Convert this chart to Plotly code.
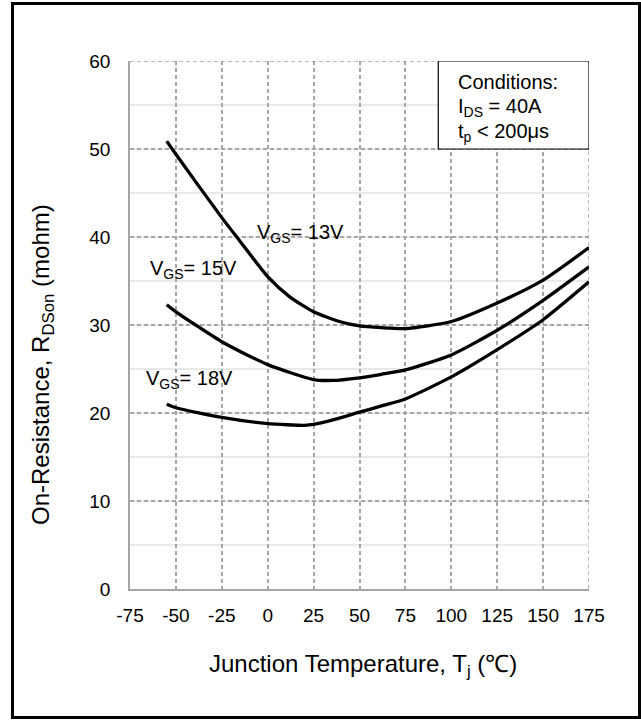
import plotly.graph_objects as go

# ---- data ----
temp_13v = [-55, -50, -25, -15, 0, 12, 25, 39, 50, 62, 75, 100, 125, 150, 175]
rds_13v = [50.9, 49.4, 42.2, 39.5, 35.5, 33.2, 31.5, 30.4, 29.9, 29.7, 29.6, 30.4, 32.5, 35.1, 38.8]

temp_15v = [-55, -50, -25, 0, 25, 35, 50, 62, 75, 100, 125, 150, 175]
rds_15v = [32.3, 31.5, 28.1, 25.5, 23.8, 23.7, 24.0, 24.4, 24.9, 26.6, 29.4, 32.8, 36.6]

temp_18v = [-55, -50, -25, 0, 20, 25, 37, 50, 62, 75, 100, 125, 150, 175]
rds_18v = [21.0, 20.6, 19.5, 18.8, 18.6, 18.7, 19.3, 20.1, 20.8, 21.6, 24.1, 27.2, 30.6, 34.9]

x_ticks = [-75, -50, -25, 0, 25, 50, 75, 100, 125, 150, 175]
y_ticks = [0, 10, 20, 30, 40, 50, 60]

FONT = "Arial, Liberation Sans, sans-serif"
GRID = "#a6a6a6"

fig = go.Figure()
for t, r in [(temp_13v, rds_13v), (temp_15v, rds_15v), (temp_18v, rds_18v)]:
    fig.add_trace(go.Scatter(x=t, y=r, mode="lines",
                             line=dict(color="black", width=3.3, shape="spline", smoothing=0.6),
                             showlegend=False, hoverinfo="skip"))

W, H = 641, 721
L, R, T, B = 130, 52, 61, 132
pw, ph = W - L - R, H - T - B

def px_x(p):
    return (p - L) / pw

def px_y(p):
    return (H - B - p) / ph

fig.update_layout(
    width=W, height=H,
    margin=dict(l=L, r=R, t=T, b=B, pad=0),
    paper_bgcolor="white", plot_bgcolor="white",
    font=dict(family=FONT, color="black", size=19),
    xaxis=dict(range=[-75, 175], tickvals=x_ticks, ticktext=[str(v) for v in x_ticks],
               showgrid=True, gridcolor=GRID, griddash="4px,3px", gridwidth=1.5,
               zeroline=False, showline=True, linecolor=GRID, linewidth=1.5,
               ticks="", ticklabelstandoff=8, tickfont=dict(size=19, family=FONT, color="black")),
    yaxis=dict(range=[0, 60], tickvals=y_ticks, ticktext=[str(v) for v in y_ticks],
               showgrid=True, gridcolor=GRID, griddash="4px,3px", gridwidth=1.5,
               zeroline=False, showline=True, linecolor=GRID, linewidth=1.5,
               ticks="", ticklabelstandoff=14, tickfont=dict(size=19, family=FONT, color="black"),
               minor=dict(dtick=5, tick0=0, showgrid=True, gridcolor="#e9e9e9", gridwidth=1.5,
                          griddash="solid")),
)

shapes = [
    # dashed top and right edges of the grid
    dict(type="line", xref="x", yref="y", x0=-75, x1=175, y0=60, y1=60,
         line=dict(color=GRID, width=1.5, dash="4px,3px"), layer="below"),
    dict(type="line", xref="x", yref="y", x0=175, x1=175, y0=0, y1=60,
         line=dict(color=GRID, width=1.5, dash="4px,3px"), layer="below"),
    # conditions box
    dict(type="rect", xref="x", yref="y", x0=92.9, x1=175, y0=50, y1=60,
         line=dict(color="black", width=1.2), fillcolor="white", layer="above"),
    # outer frame
    dict(type="rect", xref="paper", yref="paper",
         x0=px_x(12.5), x1=px_x(639.5), y0=px_y(717.5), y1=px_y(3.5),
         line=dict(color="black", width=3), fillcolor="rgba(0,0,0,0)"),
]
fig.update_layout(shapes=shapes)

ann = []
def label(x, y, text, size=20, xanchor="left", **kw):
    ann.append(dict(x=x, y=y, xref="x", yref="y", text=text, showarrow=False,
                    xanchor=xanchor, yanchor="middle", font=dict(size=size, family=FONT, color="black"),
                    **kw))

label(-6.8, 40.45, "V<sub>GS</sub>= 13V")
label(-65.4, 36.35, "V<sub>GS</sub>= 15V")
label(-67.6, 23.8, "V<sub>GS</sub>= 18V")
label(102.3, 57.6, "Conditions:")
label(102.3, 54.7, "I<sub>DS</sub> = 40A")
label(102.3, 51.9, "t<sub>p</sub> < 200μs")

ann.append(dict(x=px_x(363), y=px_y(665), xref="paper", yref="paper",
                text="Junction Temperature, T<sub>j</sub> (℃)", showarrow=False,
                xanchor="center", yanchor="middle", font=dict(size=24, family=FONT, color="black")))
ann.append(dict(x=px_x(43), y=px_y(365), xref="paper", yref="paper",
                text="On-Resistance, R<sub>DSon</sub> (mohm)", showarrow=False, textangle=-90,
                xanchor="center", yanchor="middle", font=dict(size=24, family=FONT, color="black")))
fig.update_layout(annotations=ann)

fig.write_html("out.html")
